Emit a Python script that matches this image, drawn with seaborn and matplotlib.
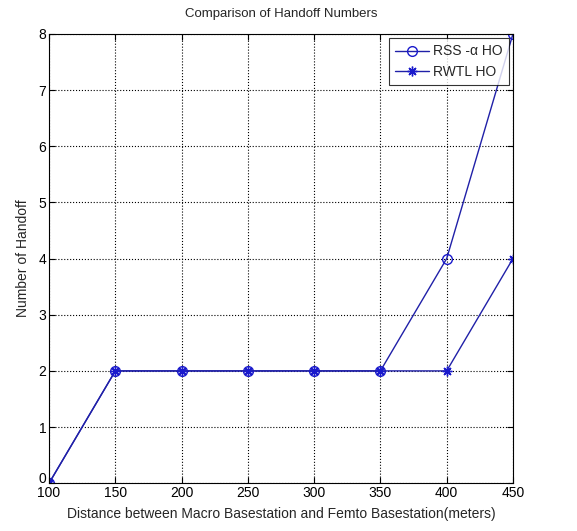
import pandas as pd
import matplotlib.pyplot as plt
import matplotlib.transforms as mtransforms
import seaborn as sns

# Data
distance = [100, 150, 200, 250, 300, 350, 400, 450]
rss_alpha_ho = [0, 2, 2, 2, 2, 2, 4, 8]
rwtl_ho = [0, 2, 2, 2, 2, 2, 2, 4]

df = pd.DataFrame({"Distance": distance, "RSS -\u03b1 HO": rss_alpha_ho, "RWTL HO": rwtl_ho})

sns.set_style("white")
plt.rcParams["font.family"] = ["Liberation Sans", "DejaVu Sans"]

fig = plt.figure(figsize=(5.77, 5.31), dpi=100)
ax = fig.add_axes([0.085, 0.09, 0.804, 0.846])

line_color = "#2020a8"
marker_color = "#1a1acc"
sns.lineplot(data=df, x="Distance", y="RSS -\u03b1 HO", ax=ax, color=line_color, lw=1.0,
             marker="o", markersize=7, markerfacecolor="none", markeredgecolor=marker_color,
             markeredgewidth=1.0, label="RSS -\u03b1 HO")
sns.lineplot(data=df, x="Distance", y="RWTL HO", ax=ax, color=line_color, lw=1.0,
             marker=(8, 2, 0), markersize=7, markerfacecolor=marker_color,
             markeredgecolor=marker_color, markeredgewidth=1.0, label="RWTL HO")

ax.set_xlim(100, 450)
ax.set_ylim(0, 8)
ax.set_xticks(distance)
ax.set_yticks(range(0, 9))
ax.grid(True, linestyle=":", color="black", lw=0.8)
for s in ax.spines.values():
    s.set_color("black")
    s.set_linewidth(0.8)
ax.tick_params(direction="in", length=4, labelsize=10, colors="black", top=True, right=True,
               bottom=True, left=True, pad=2)

# nudge the "0" label up a little, as in the reference
fig.canvas.draw()
zero_lbl = ax.get_yticklabels()[0]
zero_lbl.set_transform(zero_lbl.get_transform() +
                       mtransforms.ScaledTranslation(0, 4 / 72, fig.dpi_scale_trans))

ax.set_title("Comparison of Handoff Numbers", fontsize=9.5, pad=12)
ax.set_xlabel("Distance between Macro Basestation and Femto Basestation(meters)", fontsize=10, labelpad=5)
ax.set_ylabel("Number of Handoff", fontsize=10, labelpad=6)

leg = ax.legend(loc="upper right", fontsize=10, frameon=True, fancybox=False, edgecolor="black",
                borderaxespad=0.3, handlelength=2.4, borderpad=0.45, labelspacing=0.45,
                handletextpad=0.3)
leg.get_frame().set_linewidth(0.8)

fig.savefig("out.png", dpi=100)
